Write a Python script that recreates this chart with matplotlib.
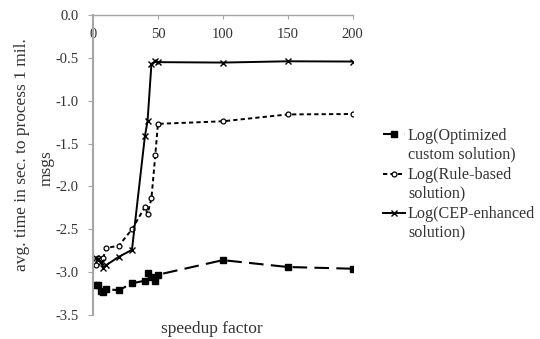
import matplotlib
matplotlib.use("Agg")
import matplotlib.pyplot as plt
from matplotlib.ticker import FormatStrFormatter, MultipleLocator

plt.rcParams['font.family'] = ['Liberation Serif', 'DejaVu Serif']
plt.rcParams['axes.unicode_minus'] = False

speedup = [2, 4, 6, 8, 10, 20, 30, 40, 42, 45, 48, 50, 100, 150, 200]
optimized = [-3.15, -3.15, -3.22, -3.23, -3.20, -3.21, -3.13, -3.10, -3.01, -3.06, -3.10, -3.03, -2.86, -2.94, -2.96]
rule_based = [-2.92, -2.83, -2.86, -2.83, -2.72, -2.69, -2.50, -2.24, -2.32, -2.14, -1.63, -1.27, -1.24, -1.16, -1.155]
cep = [-2.84, -2.85, -2.88, -2.95, -2.92, -2.82, -2.74, -1.41, -1.24, -0.57, -0.54, -0.55, -0.555, -0.54, -0.543]

labels_line1 = ["Log(Optimized", "Log(Rule-based", "Log(CEP-enhanced"]
labels_line2 = ["custom solution)", "solution)", "solution)"]
xlabel = "speedup factor"
ylabel1 = "avg. time in sec. to process 1 mil."
ylabel2 = "msgs"

W, H = 540, 339
fig = plt.figure(figsize=(W / 100, H / 100), dpi=100)
ax = fig.add_axes([93 / W, 1 - 315 / H, (352.7 - 93) / W, 300 / H])

txt = '#333333'
ax.plot(speedup, optimized, color='black', lw=1.5, dashes=(7, 3.5), marker='s', ms=5,
        mfc='black', mec='black', label=labels_line1[0])
ax.plot(speedup, rule_based, color='black', lw=1.4, dashes=(2.2, 1.6), marker='o', ms=3.5,
        mfc='white', mec='black', mew=0.9, label=labels_line1[1])
ax.plot(speedup, cep, color='black', lw=1.4, linestyle='-', marker='x', ms=4, mew=1.0,
        label=labels_line1[2])

ax.set_xlim(0, 200)
ax.set_ylim(-3.5, 0)
ax.xaxis.set_major_locator(MultipleLocator(50))
ax.yaxis.set_major_locator(MultipleLocator(0.5))
ax.yaxis.set_major_formatter(FormatStrFormatter('%.1f'))

for s in ['right', 'top']:
    ax.spines[s].set_visible(False)
ax.spines['bottom'].set_position(('data', 0))
ax.spines['bottom'].set_color('#A6A6A6')
ax.spines['left'].set_color('#A6A6A6')
ax.spines['bottom'].set_linewidth(1.0)
ax.spines['left'].set_linewidth(1.5)
ax.tick_params(axis='x', direction='out', length=3, color='#A6A6A6', pad=6,
               labelsize=10.5, labelcolor=txt)
ax.tick_params(axis='y', direction='out', length=3.5, color='#A6A6A6', pad=7,
               labelsize=10.5, labelcolor=txt)

fig.text(22 / W, 1 - 155 / H, ylabel1, rotation=90, ha='center', va='center',
         fontsize=12.5, color=txt)
fig.text(47 / W, 1 - 168 / H, ylabel2, rotation=90, ha='center', va='center',
         fontsize=12.5, color=txt)
fig.text(212 / W, 1 - 329 / H, xlabel, ha='center', va='center', fontsize=12.5, color=txt)

fs = 11.6
leg = fig.legend(loc='upper left', bbox_to_anchor=(383 / W, 1 - 128 / H), frameon=False,
                 fontsize=fs, handlelength=1.35, handletextpad=0.2,
                 labelspacing=(38.5 - fs * 100 / 72 * 1.0) / (fs * 100 / 72) + 0.05,
                 labelcolor=txt, borderaxespad=0, borderpad=0)
fig.canvas.draw()
r = fig.canvas.get_renderer()
for t, l2 in zip(leg.get_texts(), labels_line2):
    bb = t.get_window_extent(r)
    fig.text(bb.x0 / W, (bb.y0 - 18.5) / H, l2, ha='left', va='bottom', fontsize=fs, color=txt)

fig.savefig('out.png', dpi=100)
